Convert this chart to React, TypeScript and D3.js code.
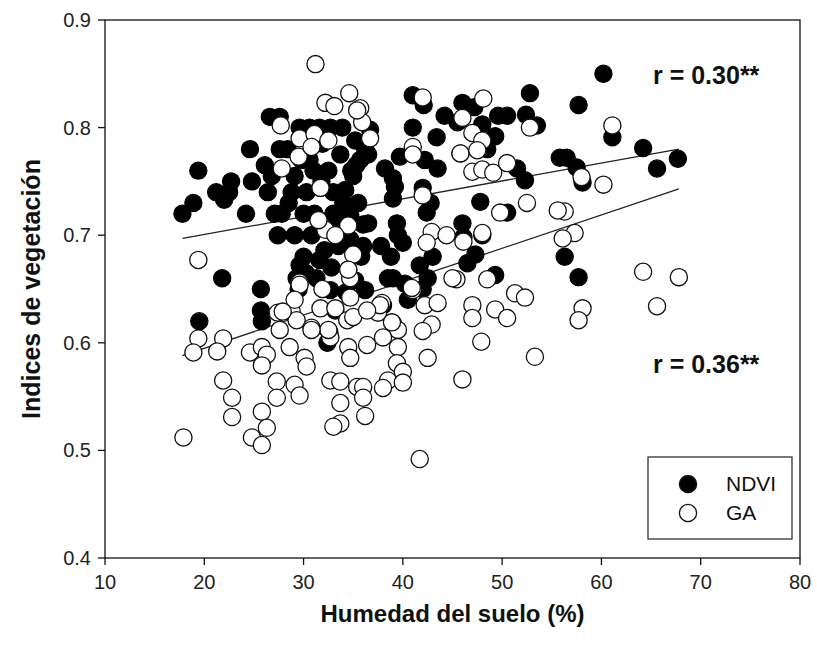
import React from "react";
import * as d3 from "d3";

// soil moisture (%) vs vegetation index
const ndviPoints: [number, number][] = [
  [17.8, 0.72], [18.9, 0.73], [19.4, 0.76], [19.5, 0.62],
  [21.2, 0.74], [21.8, 0.66], [22.0, 0.733], [22.7, 0.75], [22.5, 0.74], [24.6, 0.78], [24.8, 0.75], [24.2, 0.72],
  [25.7, 0.65], [25.7, 0.63], [25.8, 0.62], [26.1, 0.765], [26.4, 0.74], [26.6, 0.81], [27.6, 0.81], [27.1, 0.72],
  [27.8, 0.72], [27.4, 0.7], [27.6, 0.78], [26.8, 0.755],
  [28.4, 0.78], [29.6, 0.8], [30.6, 0.8], [29.1, 0.755], [29.8, 0.77], [30.3, 0.74], [29.1, 0.7], [29.6, 0.672],
  [29.3, 0.66], [30.2, 0.665], [30.6, 0.77], [30.0, 0.72], [30.8, 0.7], [29.5, 0.65], [30.0, 0.68], [28.8, 0.74],
  [31.0, 0.76], [28.5, 0.73],
  [31.6, 0.8], [32.7, 0.8], [33.9, 0.8], [31.1, 0.72], [31.6, 0.677], [32.1, 0.686], [32.7, 0.649], [32.6, 0.61],
  [32.4, 0.6], [33.7, 0.775], [31.8, 0.75], [32.5, 0.76], [33.0, 0.74], [33.4, 0.71], [33.5, 0.69], [32.8, 0.67],
  [31.3, 0.66], [33.2, 0.63], [31.9, 0.785], [33.0, 0.72],
  [34.2, 0.742], [34.7, 0.719], [34.7, 0.696], [34.5, 0.668], [34.3, 0.647], [35.2, 0.788], [35.7, 0.77], [36.2, 0.78],
  [36.7, 0.798], [35.2, 0.658], [36.2, 0.649], [35.0, 0.755], [35.5, 0.73], [36.0, 0.71], [35.8, 0.68], [36.5, 0.711],
  [34.8, 0.76], [36.5, 0.775], [35.3, 0.765], [34.0, 0.73], [36.0, 0.69],
  [38.2, 0.762], [39.0, 0.753], [39.2, 0.745], [39.0, 0.734], [39.7, 0.773], [39.4, 0.711], [40.0, 0.693], [41.0, 0.83],
  [41.0, 0.8], [38.5, 0.66], [39.0, 0.66], [40.5, 0.64], [38.8, 0.68], [39.5, 0.7], [37.8, 0.69], [40.2, 0.655], [38.0, 0.635],
  [42.1, 0.821], [42.0, 0.744], [42.4, 0.721], [43.5, 0.762], [42.2, 0.77], [43.4, 0.791], [44.2, 0.811], [41.7, 0.672],
  [42.5, 0.66], [42.0, 0.65], [43.0, 0.68], [42.8, 0.73],
  [46.0, 0.823], [47.2, 0.819], [45.8, 0.776], [47.8, 0.731], [46.0, 0.711], [48.0, 0.803], [49.3, 0.792], [49.6, 0.811],
  [46.1, 0.698], [46.5, 0.674], [47.3, 0.682], [49.3, 0.663], [45.5, 0.805], [48.5, 0.78], [48.0, 0.7],
  [50.5, 0.811], [52.4, 0.812], [52.8, 0.832], [53.5, 0.802], [51.5, 0.762], [52.3, 0.751], [50.5, 0.721], [55.8, 0.772],
  [60.2, 0.85], [57.7, 0.821], [61.1, 0.791], [64.2, 0.781], [67.7, 0.771], [65.6, 0.762], [56.5, 0.772], [57.5, 0.763],
  [58.1, 0.749], [56.3, 0.68], [57.7, 0.661],
];

const gaPoints: [number, number][] = [
  [17.9, 0.512], [19.4, 0.677], [19.4, 0.604], [18.9, 0.591], [21.9, 0.604], [21.3, 0.592], [21.9, 0.565], [22.8, 0.549], [22.8, 0.531],
  [24.6, 0.591], [25.8, 0.596], [26.3, 0.589], [25.8, 0.579], [25.8, 0.536], [24.8, 0.512], [25.8, 0.505], [26.3, 0.521],
  [27.6, 0.612], [27.4, 0.628], [28.8, 0.629], [29.3, 0.621], [28.6, 0.596], [27.3, 0.564], [27.3, 0.549],
  [29.6, 0.656], [31.9, 0.65], [31.7, 0.632], [30.8, 0.614], [32.7, 0.605], [33.2, 0.632], [34.4, 0.621], [34.7, 0.66],
  [34.7, 0.642], [34.5, 0.596], [34.7, 0.586],
  [30.1, 0.586], [30.3, 0.578], [29.1, 0.561], [29.6, 0.551], [32.7, 0.565], [33.7, 0.564], [33.7, 0.544], [33.7, 0.525],
  [33.0, 0.522], [35.4, 0.559],
  [45.4, 0.659], [48.5, 0.659], [51.3, 0.646], [52.3, 0.642], [41.0, 0.649], [37.9, 0.637], [37.5, 0.628], [39.0, 0.618],
  [39.5, 0.612], [38.0, 0.605], [36.4, 0.598], [39.5, 0.596], [39.4, 0.581], [40.0, 0.573], [38.5, 0.565], [40.0, 0.563],
  [38.0, 0.558], [36.0, 0.559], [36.0, 0.549], [36.2, 0.532],
  [42.2, 0.635], [43.5, 0.637], [42.9, 0.617], [42.0, 0.611], [42.5, 0.586], [47.0, 0.635], [47.0, 0.623], [49.3, 0.631],
  [50.5, 0.623], [47.9, 0.601], [53.3, 0.587], [46.0, 0.566], [41.7, 0.492],
  [64.2, 0.666], [67.8, 0.661], [65.6, 0.634], [58.1, 0.632], [57.7, 0.621],
  [61.1, 0.802], [60.2, 0.747], [58.0, 0.754], [56.3, 0.722], [57.3, 0.702], [56.1, 0.697],
  [42.0, 0.828], [48.1, 0.827], [46.0, 0.809], [52.8, 0.8], [35.7, 0.818], [35.9, 0.805], [36.7, 0.79], [41.0, 0.782],
  [41.0, 0.775], [47.0, 0.795], [48.0, 0.788], [45.8, 0.776], [47.5, 0.779], [47.0, 0.759], [48.0, 0.761], [49.1, 0.758],
  [50.5, 0.767], [42.0, 0.737], [52.5, 0.73], [49.8, 0.721], [55.6, 0.723], [42.9, 0.703], [44.4, 0.7], [46.1, 0.694], [48.0, 0.702],
  [31.2, 0.859], [34.6, 0.832], [32.2, 0.823], [33.1, 0.82], [35.4, 0.816], [27.7, 0.802], [29.6, 0.79], [31.1, 0.794],
  [32.5, 0.788], [29.5, 0.773], [27.8, 0.762], [31.7, 0.744], [34.5, 0.709], [32.2, 0.705], [31.5, 0.714], [30.8, 0.782],
  [35.0, 0.682], [34.5, 0.668], [29.6, 0.654], [29.1, 0.64], [27.9, 0.629], [35.0, 0.624], [37.7, 0.635], [38.9, 0.619],
  [40.9, 0.651], [42.4, 0.693], [45.0, 0.66], [32.5, 0.612], [30.8, 0.612], [33.2, 0.7], [36.4, 0.63],
];

// fitted lines (end points)
const ndviFit: [number, number][] = [[17.8, 0.697], [67.8, 0.78]];
const gaFit: [number, number][] = [[17.8, 0.588], [67.8, 0.743]];

const xTicks = [10, 20, 30, 40, 50, 60, 70, 80];
const yTicks = [0.4, 0.5, 0.6, 0.7, 0.8, 0.9];
const legendItems = ["NDVI", "GA"];

const W = 817;
const H = 646;
const margin = { top: 20, right: 17, bottom: 88, left: 105 };
const font = "Arial, 'Liberation Sans', sans-serif";

export default function App() {
  const x = d3.scaleLinear().domain([10, 80]).range([margin.left, W - margin.right]);
  const y = d3.scaleLinear().domain([0.4, 0.9]).range([H - margin.bottom, margin.top]);
  const line = d3
    .line<[number, number]>()
    .x((d) => x(d[0]))
    .y((d) => y(d[1]));

  const r = 8.6;
  const x0 = x(10);
  const x1 = x(80);
  const y0 = y(0.4);
  const y1 = y(0.9);

  return (
    <svg
      width={W}
      height={H}
      style={{ position: "absolute", left: 0, top: 0, background: "#fff" }}
      fontFamily={font}
    >
      <rect x={0} y={0} width={W} height={H} fill="#fff" />

      {/* fit lines under the points */}
      <path d={line(ndviFit) || ""} fill="none" stroke="#222" strokeWidth={1.3} />
      <path d={line(gaFit) || ""} fill="none" stroke="#222" strokeWidth={1.3} />

      {ndviPoints.map((d, i) => (
        <circle key={"n" + i} cx={x(d[0])} cy={y(d[1])} r={r} fill="#000" stroke="#000" strokeWidth={1.2} />
      ))}
      {gaPoints.map((d, i) => (
        <circle key={"g" + i} cx={x(d[0])} cy={y(d[1])} r={r} fill="#fff" stroke="#111" strokeWidth={1.3} />
      ))}

      {/* frame */}
      <rect x={x0} y={y1} width={x1 - x0} height={y0 - y1} fill="none" stroke="#111" strokeWidth={1.3} />

      {/* y axis */}
      {yTicks.map((t) => (
        <g key={"y" + t}>
          <line x1={x0 - 7} x2={x0} y1={y(t)} y2={y(t)} stroke="#111" strokeWidth={1.3} />
          <text x={x0 - 14} y={y(t)} dy="0.35em" textAnchor="end" fontSize={20} fill="#222">
            {t.toFixed(1)}
          </text>
        </g>
      ))}
      {/* x axis */}
      {xTicks.map((t) => (
        <g key={"x" + t}>
          <line x1={x(t)} x2={x(t)} y1={y0} y2={y0 + 7} stroke="#111" strokeWidth={1.3} />
          <text x={x(t)} y={y0 + 31} textAnchor="middle" fontSize={20} fill="#222">
            {t}
          </text>
        </g>
      ))}

      <text
        transform={`translate(40,${(y0 + y1) / 2}) rotate(-90)`}
        textAnchor="middle"
        fontSize={25}
        fontWeight="bold"
        fill="#111"
      >
        Indices de vegetación
      </text>
      <text x={(x0 + x1) / 2} y={622} textAnchor="middle" fontSize={24} fontWeight="bold" fill="#111">
        Humedad del suelo (%)
      </text>

      <text x={653} y={84} fontSize={25} fontWeight="bold" fill="#111">
        r = 0.30**
      </text>
      <text x={653} y={373} fontSize={25} fontWeight="bold" fill="#111">
        r = 0.36**
      </text>

      {/* legend */}
      <rect x={648} y={457} width={144} height={82} fill="#fff" stroke="#333" strokeWidth={1.3} />
      {legendItems.map((name, i) => (
        <g key={name}>
          <circle
            cx={688}
            cy={484 + i * 29}
            r={r}
            fill={i === 0 ? "#000" : "#fff"}
            stroke="#111"
            strokeWidth={1.3}
          />
          <text x={726} y={484 + i * 29} dy="0.35em" fontSize={21} fill="#111">
            {name}
          </text>
        </g>
      ))}
    </svg>
  );
}
